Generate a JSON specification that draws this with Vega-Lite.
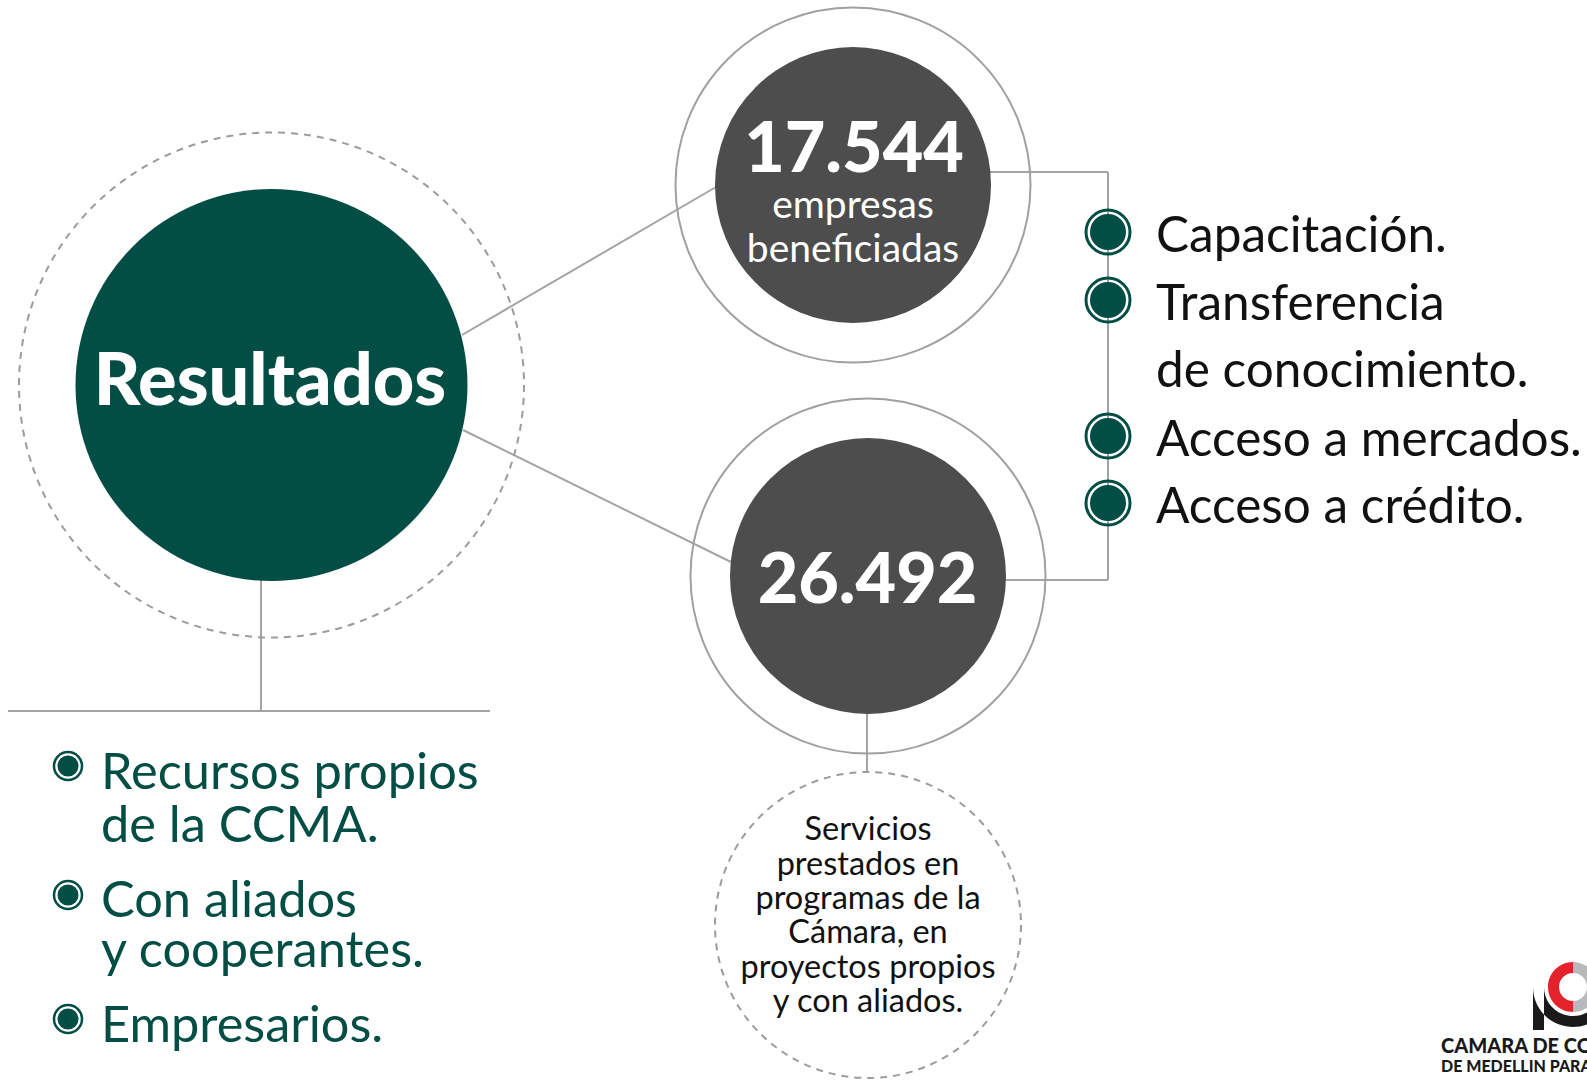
{
  "$schema": "https://vega.github.io/schema/vega-lite/v6.json",
  "width": 1587,
  "height": 1084,
  "autosize": {"type": "none"},
  "padding": 0,
  "background": "white",
  "config": {"view": {"stroke": null}, "font": "Lato"},
  "datasets": {
    "links": [
      {"link": "Resultados-17.544", "x": 462, "y": 335, "x2": 716, "y2": 187},
      {"link": "Resultados-26.492", "x": 463, "y": 430, "x2": 731, "y2": 562},
      {"link": "17.544-lista", "x": 990, "y": 172, "x2": 1108, "y2": 172},
      {"link": "lista", "x": 1108, "y": 172, "x2": 1108, "y2": 580},
      {"link": "26.492-lista", "x": 1005, "y": 580, "x2": 1108, "y2": 580},
      {"link": "Resultados-fuentes", "x": 261, "y": 578, "x2": 261, "y2": 711},
      {"link": "fuentes", "x": 8, "y": 711, "x2": 490, "y2": 711},
      {"link": "26.492-servicios", "x": 867, "y": 713, "x2": 867, "y2": 772}
    ],
    "nodes": [
      {"node": "Resultados", "x": 271.5, "y": 385},
      {"node": "17.544", "x": 853, "y": 185},
      {"node": "26.492", "x": 868, "y": 576},
      {"node": "Servicios", "x": 868, "y": 925}
    ],
    "bullets": [
      {"list": "apoyo", "x": 1108, "y": 232},
      {"list": "apoyo", "x": 1108, "y": 300},
      {"list": "apoyo", "x": 1108, "y": 436},
      {"list": "apoyo", "x": 1108, "y": 503},
      {"list": "fuentes", "x": 68, "y": 766},
      {"list": "fuentes", "x": 68, "y": 895},
      {"list": "fuentes", "x": 68, "y": 1019}
    ],
    "labels": [
      {"group": "titulo", "text": "Resultados", "x": 270, "y": 405},
      {"group": "cifra", "text": "17.544", "x": 854, "y": 172},
      {"group": "cifra", "text": "26.492", "x": 867.5, "y": 603},
      {"group": "subcifra", "text": "empresas", "x": 853, "y": 218},
      {"group": "subcifra", "text": "beneficiadas", "x": 853, "y": 262},
      {"group": "apoyo", "text": "Capacitación.", "x": 1156, "y": 252},
      {"group": "apoyo", "text": "Transferencia", "x": 1156, "y": 320},
      {"group": "apoyo", "text": "de conocimiento.", "x": 1156, "y": 387},
      {"group": "apoyo", "text": "Acceso a mercados.", "x": 1156, "y": 456},
      {"group": "apoyo", "text": "Acceso a crédito.", "x": 1156, "y": 523},
      {"group": "fuentes", "text": "Recursos propios", "x": 101, "y": 789},
      {"group": "fuentes", "text": "de la CCMA.", "x": 101, "y": 842},
      {"group": "fuentes", "text": "Con aliados", "x": 101, "y": 917},
      {"group": "fuentes", "text": "y cooperantes.", "x": 101, "y": 967},
      {"group": "fuentes", "text": "Empresarios.", "x": 101, "y": 1042},
      {"group": "servicios", "text": "Servicios", "x": 868, "y": 840},
      {"group": "servicios", "text": "prestados en", "x": 868, "y": 875},
      {"group": "servicios", "text": "programas de la", "x": 868, "y": 909},
      {"group": "servicios", "text": "Cámara, en", "x": 868, "y": 943},
      {"group": "servicios", "text": "proyectos propios", "x": 868, "y": 978},
      {"group": "servicios", "text": "y con aliados.", "x": 868, "y": 1012},
      {"group": "logo1", "text": "CAMARA DE COMERCIO", "x": 1441, "y": 1053},
      {"group": "logo2", "text": "DE MEDELLIN PARA ANTIOQUIA", "x": 1441, "y": 1072}
    ],
    "logo": [
      {"part": "rojo", "x": 1573, "y": 987},
      {"part": "gris", "x": 1573, "y": 987},
      {"part": "negro", "x": 1573, "y": 987}
    ]
  },
  "encoding": {
    "x": {"field": "x", "type": "quantitative", "scale": {"domain": [0, 1587], "nice": false, "zero": false}, "axis": null},
    "y": {"field": "y", "type": "quantitative", "scale": {"domain": [0, 1084], "nice": false, "zero": false, "reverse": true}, "axis": null}
  },
  "layer": [
    {
      "data": {"name": "links"},
      "mark": {"type": "rule", "color": "#a4a4a4", "strokeWidth": 2},
      "encoding": {"x2": {"field": "x2"}, "y2": {"field": "y2"}}
    },
    {
      "data": {"name": "nodes"},
      "transform": [{"filter": "datum.node === 'Resultados'"}],
      "mark": {"type": "point", "shape": "circle", "filled": false, "size": 255025, "stroke": "#9c9c9c", "strokeWidth": 2, "strokeDash": [7, 6], "opacity": 1}
    },
    {
      "data": {"name": "nodes"},
      "transform": [{"filter": "datum.node === 'Servicios'"}],
      "mark": {"type": "point", "shape": "circle", "filled": false, "size": 93636, "stroke": "#9c9c9c", "strokeWidth": 2, "strokeDash": [7, 6], "opacity": 1}
    },
    {
      "data": {"name": "nodes"},
      "transform": [{"filter": "datum.node === '17.544' || datum.node === '26.492'"}],
      "mark": {"type": "point", "shape": "circle", "filled": false, "size": 126025, "stroke": "#a0a0a0", "strokeWidth": 2, "opacity": 1}
    },
    {
      "data": {"name": "nodes"},
      "transform": [{"filter": "datum.node === 'Resultados'"}],
      "mark": {"type": "point", "shape": "circle", "filled": true, "size": 153664, "color": "#024d44", "opacity": 1}
    },
    {
      "data": {"name": "nodes"},
      "transform": [{"filter": "datum.node === '17.544' || datum.node === '26.492'"}],
      "mark": {"type": "point", "shape": "circle", "filled": true, "size": 76176, "color": "#4d4d4d", "opacity": 1}
    },
    {
      "data": {"name": "bullets"},
      "transform": [{"filter": "datum.list === 'apoyo'"}],
      "mark": {"type": "point", "shape": "circle", "filled": false, "size": 1936, "stroke": "#024d44", "strokeWidth": 3, "opacity": 1}
    },
    {
      "data": {"name": "bullets"},
      "transform": [{"filter": "datum.list === 'apoyo'"}],
      "mark": {"type": "point", "shape": "circle", "filled": true, "size": 1296, "color": "#024d44", "opacity": 1}
    },
    {
      "data": {"name": "bullets"},
      "transform": [{"filter": "datum.list === 'fuentes'"}],
      "mark": {"type": "point", "shape": "circle", "filled": false, "size": 784, "stroke": "#024d44", "strokeWidth": 2.5, "opacity": 1}
    },
    {
      "data": {"name": "bullets"},
      "transform": [{"filter": "datum.list === 'fuentes'"}],
      "mark": {"type": "point", "shape": "circle", "filled": true, "size": 441, "color": "#024d44", "opacity": 1}
    },
    {
      "data": {"name": "labels"},
      "transform": [{"filter": "datum.group === 'titulo'"}],
      "mark": {"type": "text", "align": "center", "baseline": "alphabetic", "fontSize": 72, "fontWeight": 900, "color": "#ffffff", "font": "Lato"},
      "encoding": {"text": {"field": "text"}}
    },
    {
      "data": {"name": "labels"},
      "transform": [{"filter": "datum.group === 'cifra'"}],
      "mark": {"type": "text", "align": "center", "baseline": "alphabetic", "fontSize": 70, "fontWeight": 900, "color": "#ffffff", "font": "Lato"},
      "encoding": {"text": {"field": "text"}}
    },
    {
      "data": {"name": "labels"},
      "transform": [{"filter": "datum.group === 'subcifra'"}],
      "mark": {"type": "text", "align": "center", "baseline": "alphabetic", "fontSize": 39, "color": "#ffffff", "font": "Lato"},
      "encoding": {"text": {"field": "text"}}
    },
    {
      "data": {"name": "labels"},
      "transform": [{"filter": "datum.group === 'apoyo'"}],
      "mark": {"type": "text", "align": "left", "baseline": "alphabetic", "fontSize": 49.5, "color": "#111111", "font": "Lato"},
      "encoding": {"text": {"field": "text"}}
    },
    {
      "data": {"name": "labels"},
      "transform": [{"filter": "datum.group === 'fuentes'"}],
      "mark": {"type": "text", "align": "left", "baseline": "alphabetic", "fontSize": 50.5, "color": "#024d44", "font": "Lato"},
      "encoding": {"text": {"field": "text"}}
    },
    {
      "data": {"name": "labels"},
      "transform": [{"filter": "datum.group === 'servicios'"}],
      "mark": {"type": "text", "align": "center", "baseline": "alphabetic", "fontSize": 32.5, "color": "#111111", "font": "Lato"},
      "encoding": {"text": {"field": "text"}}
    },
    {
      "data": {"name": "logo"},
      "transform": [{"filter": "datum.part === 'rojo'"}],
      "mark": {"type": "point", "filled": true, "size": 2500, "color": "#e3222b", "opacity": 1, "shape": "M0,-1 A1,1 0 0,0 0,1 L0,0.56 A0.56,0.56 0 0,1 0,-0.56 Z"}
    },
    {
      "data": {"name": "logo"},
      "transform": [{"filter": "datum.part === 'gris'"}],
      "mark": {"type": "point", "filled": true, "size": 2500, "color": "#b8b9bb", "opacity": 1, "shape": "M0,-1 A1,1 0 0,1 0,1 L0,0.56 A0.56,0.56 0 0,0 0,-0.56 Z"}
    },
    {
      "data": {"name": "logo"},
      "transform": [{"filter": "datum.part === 'negro'"}],
      "mark": {"type": "point", "filled": true, "size": 2500, "color": "#1a1a1a", "opacity": 1, "shape": "M-1.6,0 A1.6,1.6 0 0,0 1.226,1.029 L0.889,0.746 A1.16,1.16 0 0,1 -1.16,0 Z M-1.6,0 L-1.16,0 L-1.16,1.72 L-1.6,1.72 Z"}
    },
    {
      "data": {"name": "labels"},
      "transform": [{"filter": "datum.group === 'logo1'"}],
      "mark": {"type": "text", "align": "left", "baseline": "alphabetic", "fontSize": 20, "fontWeight": 900, "color": "#1a1a1a", "font": "Lato", "clip": true},
      "encoding": {"text": {"field": "text"}}
    },
    {
      "data": {"name": "labels"},
      "transform": [{"filter": "datum.group === 'logo2'"}],
      "mark": {"type": "text", "align": "left", "baseline": "alphabetic", "fontSize": 16, "fontWeight": 900, "color": "#1a1a1a", "font": "Lato", "clip": true},
      "encoding": {"text": {"field": "text"}}
    }
  ]
}
